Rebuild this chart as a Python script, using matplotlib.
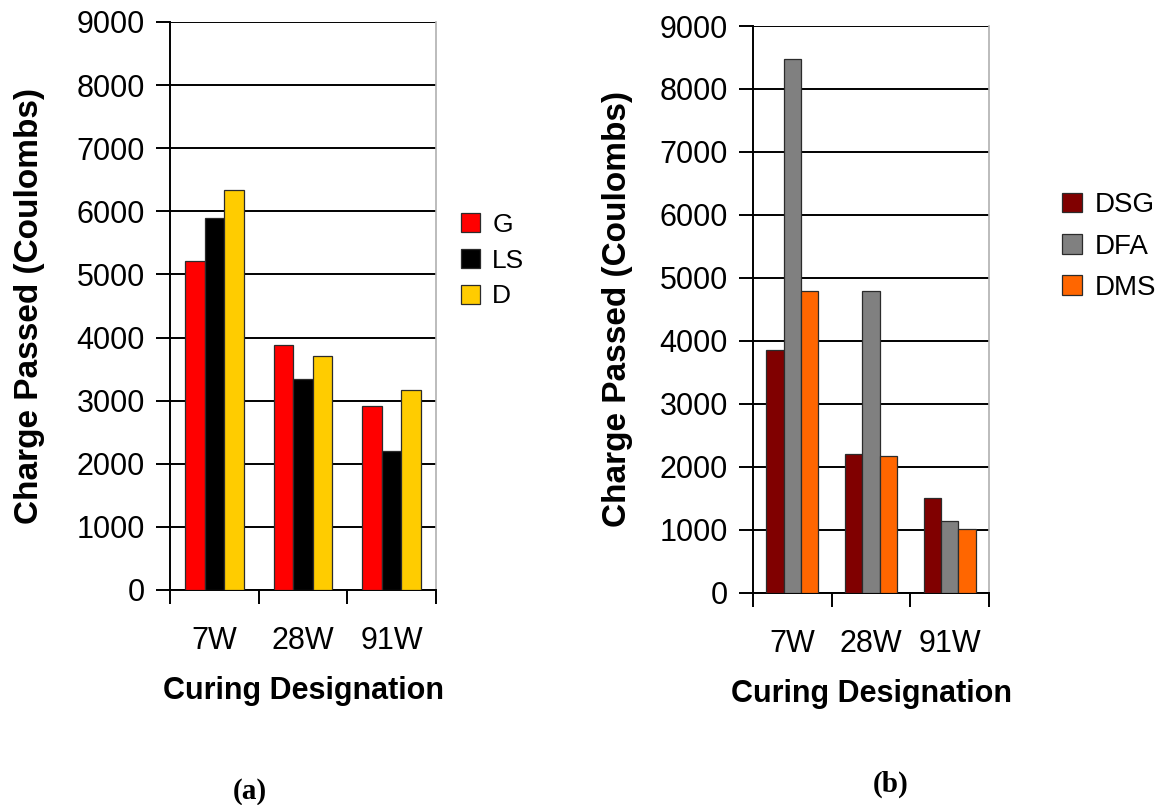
import numpy as np
import matplotlib
matplotlib.use('Agg')
import matplotlib.pyplot as plt
from matplotlib.patches import Patch

plt.rcParams['font.family'] = ['Liberation Sans', 'DejaVu Sans']

curing = ['7W', '28W', '91W']

# (a) cement type series
series_a = ['G', 'LS', 'D']
g_vals = [5210, 3880, 2920]
ls_vals = [5900, 3350, 2200]
d_vals = [6330, 3700, 3170]
colors_a = ['#FF0000', '#000000', '#FFCC00']

# (b) mineral admixture series
series_b = ['DSG', 'DFA', 'DMS']
dsg_vals = [3860, 2200, 1510]
dfa_vals = [8480, 4800, 1150]
dms_vals = [4790, 2170, 1020]
colors_b = ['#800000', '#808080', '#FF6600']


def draw_panel(ax, values, colors):
    x = np.arange(len(curing))
    w = 0.22
    for i, (vals, c) in enumerate(zip(values, colors)):
        ax.bar(x + (i - 1) * w, vals, w, color=c, edgecolor='#2b2b2b',
               linewidth=0.9, zorder=3)

    ax.set_xlim(-0.5, 2.5)
    ax.set_ylim(0, 9000)
    ax.set_yticks(range(0, 9001, 1000))
    ax.yaxis.grid(True, color='black', linewidth=1.4, zorder=0)

    # category boundaries get the tick marks, the labels sit in between
    ax.set_xticks([-0.5, 0.5, 1.5, 2.5])
    ax.set_xticklabels([])
    ax.set_xticks(x, minor=True)
    ax.set_xticklabels(curing, minor=True)
    ax.tick_params(axis='x', which='major', direction='out', length=10,
                   width=1.4, color='black')
    ax.tick_params(axis='x', which='minor', length=0, pad=26, labelsize=22)
    ax.tick_params(axis='y', direction='out', length=10, width=1.4,
                   labelsize=22, pad=8)

    for side in ['left', 'bottom']:
        ax.spines[side].set_linewidth(1.4)
        ax.spines[side].set_color('black')
    ax.spines['top'].set_visible(False)
    ax.spines['right'].set_color('#b0b0b0')
    ax.spines['right'].set_linewidth(1.2)

    ax.set_xlabel('Curing Designation', fontsize=22, fontweight='bold',
                  labelpad=14)
    ax.set_ylabel('Charge Passed (Coulombs)', fontsize=24, fontweight='bold')


def add_legend(ax, names, colors, anchor, size, spacing):
    handles = [Patch(facecolor=c, edgecolor='#2b2b2b', linewidth=0.9)
               for c in colors]
    ax.legend(handles, names, loc='center left', bbox_to_anchor=anchor,
              frameon=False, fontsize=size, handlelength=0.72,
              handleheight=0.72, handletextpad=0.45, labelspacing=spacing,
              borderaxespad=0, borderpad=0)


fig = plt.figure(figsize=(11.63, 8.05), dpi=100)

ax1 = fig.add_axes([0.1462, 0.2671, 0.2287, 0.7056])
draw_panel(ax1, [g_vals, ls_vals, d_vals], colors_a)
ax1.yaxis.set_label_coords(-0.47, 0.5)
add_legend(ax1, series_a, colors_a, (1.095, 0.58), 19, 0.45)

ax2 = fig.add_axes([0.6475, 0.2634, 0.2029, 0.7043])
draw_panel(ax2, [dsg_vals, dfa_vals, dms_vals], colors_b)
ax2.yaxis.set_label_coords(-0.51, 0.5)
add_legend(ax2, series_b, colors_b, (1.31, 0.611), 20, 0.55)

fig.text(250 / 1163, 1 - 791 / 805, '(a)', family='Liberation Serif',
         fontweight='bold', fontsize=21, ha='center', va='center')
fig.text(891 / 1163, 1 - 784 / 805, '(b)', family='Liberation Serif',
         fontweight='bold', fontsize=21, ha='center', va='center')

fig.savefig('out.png', dpi=100)
